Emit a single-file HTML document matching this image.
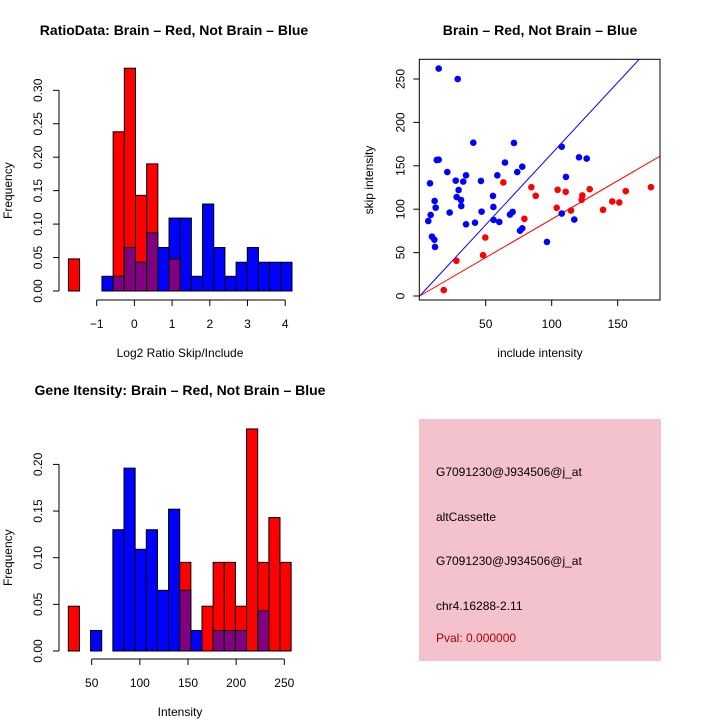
<!DOCTYPE html>
<html><head><meta charset="utf-8">
<style>
body{margin:0;background:#fff;}
svg{display:block;font-family:"Liberation Sans",sans-serif;}
</style></head>
<body>
<svg id="c" width="720" height="720" viewBox="0 0 720 720"></svg>
<script>
// ---- Data ----
const ratioBreakStart = -1.75;
const ratioBinWidth = 0.2965;
const ratioRed = [0.048,0,0,0,0.238,0.333,0.143,0.190,0,0.048,0,0,0,0,0,0,0,0,0,0];
const ratioBlue = [0,0,0,0.022,0.022,0.065,0.043,0.087,0.065,0.109,0.109,0.022,0.130,0.065,0.022,0.043,0.065,0.043,0.043,0.043];
const ratioXTicks = [-1,0,1,2,3,4];
const ratioYTicks = ["0.00","0.05","0.10","0.15","0.20","0.25","0.30"];

const intBreakStart = 25.7;
const intBinWidth = 11.57;
const intRed = [0.048,0,0,0,0,0,0,0,0,0,0.095,0,0.048,0.095,0.095,0.048,0.238,0.095,0.143,0.095];
const intBlue = [0,0,0.022,0,0.130,0.196,0.109,0.130,0.065,0.152,0.065,0.022,0,0.022,0.022,0.022,0,0.043,0,0];
const intXTicks = [50,100,150,200,250];
const intYTicks = ["0.00","0.05","0.10","0.15","0.20"];

const blueX = [14.4,28.8,40.6,71.4,107.6,120.7,126.5,12.9,14.4,64.6,20.9,77.7,73.9,35.1,58.8,27.3,33.0,46.4,110.8,7.8,29.5,28.0,31.3,11.3,55.5,12.1,31.5,55.8,22.7,46.9,8.3,6.5,68.4,70.4,56,60.3,35.1,41.9,107.6,117.1,76,77.7,9.3,11.1,11.6,96.4];
const blueY = [262,250,176.6,176.3,172,159.8,158.3,156.7,157,153.8,142.8,149,142.8,139,139,132.9,131.8,132.6,137.2,129.8,122.1,114,110.6,109.5,115.3,101.8,103.7,102.6,96.1,97.2,93.4,86.4,93.8,96.9,87.6,85.3,82.6,84.5,95,88.1,75.3,78,68.4,64.9,56.5,62.3];
const redX = [18.2,27.8,48,49.7,63.4,79.3,84.6,87.9,103.8,104.5,110.6,114.6,122.7,123.2,128.8,138.9,145.9,151.2,156.1,175.2];
const redY = [6.8,40.6,47.1,67.4,130.8,88.9,125.4,115.4,101.6,122.3,120,98.5,110.8,115.8,123.1,99.3,108.9,107.8,120.8,125.4];
const blueSlope = 1.64;
const redSlope = 0.885;
const scXTicks = [50,100,150];
const scYTicks = [0,50,100,150,200,250];

const infoLines = ["G7091230@J934506@j_at","altCassette","G7091230@J934506@j_at","chr4.16288-2.11","Pval: 0.000000"];

const NS="http://www.w3.org/2000/svg";
const svg=document.getElementById('c');
function mk(tag,attrs,parent){const e=document.createElementNS(NS,tag);for(const k in attrs)e.setAttribute(k,attrs[k]);(parent||svg).appendChild(e);return e;}
function txt(s,x,y,attrs,parent){const e=mk('text',Object.assign({x:x,y:y,'font-size':12,'text-anchor':'middle',fill:'#000'},attrs||{}),parent);e.textContent=s;return e;}

// ---- Histogram ----
function hist(cfg){
  const g=mk('g',{});
  
  
  const sx=v=>cfg.x0px+(v-cfg.x0v)*cfg.kx;
  const sy=v=>cfg.y0px-v*cfg.ky;
  for(let i=0;i<cfg.red.length;i++){
    const a=sx(cfg.bs+i*cfg.bw), b=sx(cfg.bs+(i+1)*cfg.bw);
    const r=cfg.red[i], bl=cfg.blue[i];
    const draw=(v,col,nm)=>{ if(v<=0)return; const e=mk('rect',{x:a,y:sy(v),width:b-a,height:sy(0)-sy(v),fill:col,stroke:'#000','stroke-width':1},g);
      
      };
    if(r>=bl){draw(r,'#ff0000','bar-red');draw(bl,'#800080','bar-overlap');}
    else{draw(bl,'#0000ff','bar-blue');draw(r,'#800080','bar-overlap');}
  }
  const yt=cfg.yticks.map(Number);
  mk('line',{x1:cfg.yaxX,x2:cfg.yaxX,y1:sy(yt[0]),y2:sy(yt[yt.length-1]),stroke:'#000'},g);
  cfg.yticks.forEach(t=>{const y=sy(Number(t));mk('line',{x1:cfg.yaxX-6,x2:cfg.yaxX,y1:y,y2:y,stroke:'#000'},g);
    const lx=cfg.yaxX-17;
    const e=txt(t,lx,y,{transform:`rotate(-90 ${lx} ${y})`},g);
    
    });
  mk('line',{x1:sx(cfg.xticks[0]),x2:sx(cfg.xticks[cfg.xticks.length-1]),y1:cfg.xaxY,y2:cfg.xaxY,stroke:'#000'},g);
  cfg.xticks.forEach(t=>{const x=sx(t);mk('line',{x1:x,x2:x,y1:cfg.xaxY,y2:cfg.xaxY+6,stroke:'#000'},g);
    const e=txt(String(t).replace('-','\u2212'),x,cfg.xaxY+28,{},g);
    
    });
  let e=txt(cfg.title,cfg.tx,cfg.ty,{'font-weight':'bold','font-size':14},g);
  
  
  e=txt(cfg.xlab,180,cfg.xaxY+57,{},g);
  
  
  const ly=cfg.y0px-(cfg.y0px-sy(yt[yt.length-1]))/2;
  e=txt('Frequency',12,ly,{transform:`rotate(-90 12 ${ly})`},g);
  
  
}
hist({name:'ratio-histogram',red:ratioRed,blue:ratioBlue,bs:ratioBreakStart,bw:ratioBinWidth,x0px:96.7,x0v:-1,kx:37.7,y0px:291,ky:669,
  xticks:ratioXTicks,yticks:ratioYTicks,yaxX:59,xaxY:300,title:'RatioData: Brain \u2013 Red, Not Brain \u2013 Blue',tx:174,ty:35,xlab:'Log2 Ratio Skip/Include'});
hist({name:'intensity-histogram',red:intRed,blue:intBlue,bs:intBreakStart,bw:intBinWidth,x0px:91.7,x0v:50,kx:0.963,y0px:651,ky:933,
  xticks:intXTicks,yticks:intYTicks,yaxX:59,xaxY:659,title:'Gene Itensity: Brain \u2013 Red, Not Brain \u2013 Blue',tx:180,ty:395,xlab:'Intensity'});

// ---- Scatter ----
(function(){
  const g=mk('g',{});
  
  
  const X0=419.7,KX=1.32,Y0=296,KY=0.868;
  const sx=v=>X0+v*KX, sy=v=>Y0-v*KY;
  const L=419.3,R=660,T=59.3,B=300;
  const cp=mk('clipPath',{id:'scclip'},g);mk('rect',{x:L,y:T,width:R-L,height:B-T},cp);
  const lg=mk('g',{'clip-path':'url(#scclip)'},g);
  let e=mk('line',{x1:sx(0),y1:sy(0),x2:sx(300),y2:sy(300*blueSlope),stroke:'#0000ff','stroke-width':1},lg);
  
  
  e=mk('line',{x1:sx(0),y1:sy(0),x2:sx(300),y2:sy(300*redSlope),stroke:'#ff0000','stroke-width':1},lg);
  
  
  blueX.forEach((x,i)=>{const p=mk('circle',{cx:sx(x),cy:sy(blueY[i]),r:3.3,fill:'#0000ff'},g);
    
    });
  redX.forEach((x,i)=>{const p=mk('circle',{cx:sx(x),cy:sy(redY[i]),r:3.3,fill:'#ff0000'},g);
    
    });
  mk('rect',{x:L,y:T,width:R-L,height:B-T,fill:'none',stroke:'#000'},g);
  scXTicks.forEach(t=>{const x=sx(t);mk('line',{x1:x,x2:x,y1:B,y2:B+6,stroke:'#000'},g);
    const q=txt(String(t),x,B+28,{},g);
    
    });
  scYTicks.forEach(t=>{const y=sy(t);mk('line',{x1:L-6,x2:L,y1:y,y2:y,stroke:'#000'},g);
    const lx=L-15;
    const q=txt(String(t),lx,y,{transform:`rotate(-90 ${lx} ${y})`},g);
    
    });
  e=txt('Brain \u2013 Red, Not Brain \u2013 Blue',540,35,{'font-weight':'bold','font-size':14},g);
  
  
  e=txt('include intensity',540,357,{},g);
  
  
  e=txt('skip intensity',373,180,{transform:'rotate(-90 373 180)'},g);
  
  
})();

// ---- Info box ----
(function(){
  const g=mk('g',{});
  
  
  mk('rect',{x:419,y:419,width:242,height:242,fill:'#f3c2cc'},g);
  const ys=[476,521,565,610,642];
  infoLines.forEach((s,i)=>{const e=txt(s,436,ys[i],{'text-anchor':'start',fill:i===4?'#b00000':'#000'},g);
    
    });
})();
</script>
</body></html>
